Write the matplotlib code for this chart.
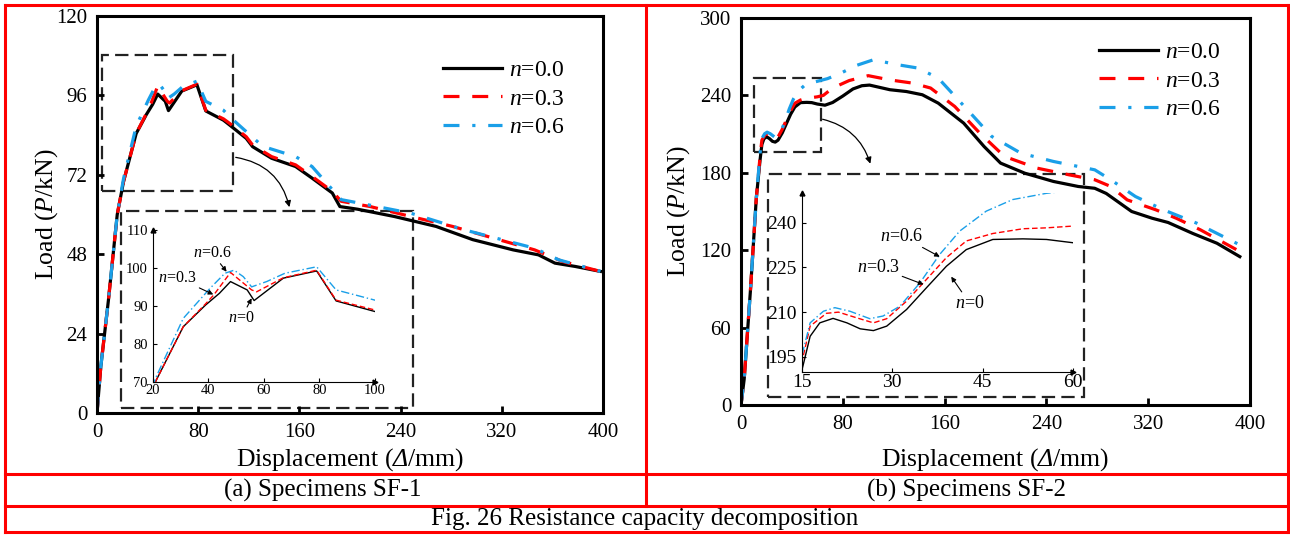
import numpy as np
import matplotlib.pyplot as plt
from matplotlib.patches import Rectangle, FancyArrowPatch
from matplotlib.lines import Line2D

plt.rcParams['font.family'] = ['Liberation Serif', 'DejaVu Serif']
plt.rcParams['mathtext.fontset'] = 'custom'
plt.rcParams['mathtext.rm'] = 'Liberation Serif'
plt.rcParams['mathtext.it'] = 'Liberation Serif:italic'
# sf slot carries the italic face so the capital Delta can be slanted
plt.rcParams['mathtext.sf'] = 'Liberation Serif:italic'

W, H = 1290, 535

# SF-1 load-displacement curves
sf1_x0 = [0, 3, 9, 16, 21, 31, 39, 44, 48, 54, 56.5, 67, 79, 86, 100, 105, 118, 123, 138, 157, 170,
          186, 192, 206, 235, 268, 297, 329, 349, 362, 378, 398]
sf1_y0 = [0, 14, 34, 60, 70, 84.5, 90.2, 93.3, 96.4, 94.2, 91.4, 97.3, 99.2, 91.3, 88.5, 87, 83, 80.5,
          77, 74.5, 71, 66.5, 62.4, 61.6, 59.4, 56.4, 52.4, 49.3, 47.8, 45.3, 44.3, 42.8]
sf1_x3 = [0, 3, 9, 16, 21, 31, 39, 42, 48, 55.6, 57.4, 67, 79, 86, 100, 105, 118, 123, 138, 157, 170,
          186, 193, 216, 248, 281, 313, 346, 368, 398]
sf1_y3 = [0, 14, 34, 60, 70, 84.5, 90.5, 92.9, 98.8, 94.2, 93.7, 97.4, 99.4, 91.5, 88.9, 87.5, 83.5,
          81, 77.5, 75, 71.5, 67, 64, 62.4, 59.4, 56.4, 52.9, 49.3, 45.8, 42.8]
sf1_x6 = [0, 3, 9, 16, 21, 31, 40.6, 46, 49.3, 52.6, 55.6, 61, 67.6, 79, 86, 100, 105, 131, 157, 170,
          193, 208, 248, 290, 320, 346, 365, 398]
sf1_y6 = [0, 14, 34, 60, 70.9, 86.7, 94.6, 98.6, 99.4, 97.7, 95, 96.4, 98.6, 100.3, 94.2, 91.5, 89.5,
          80.6, 77.5, 74.5, 64.5, 63.4, 60.4, 55.4, 52.4, 49.8, 46.3, 42.8]

# SF-2 load-displacement curves
sf2_x0 = [0, 2.5, 7.5, 12, 15, 16.4, 18, 20.2, 22.5, 24.7, 26.9, 29.1, 32.4, 35.7, 39, 42.3, 46.7,
          51.7, 55.6, 60, 66, 72, 80, 88, 95, 101, 117, 130, 142.5, 155, 175, 191, 204, 223, 245.5,
          265, 278, 287, 307, 323, 335.6, 355, 374, 392]
sf2_y0 = [0, 20, 90, 160, 190.2, 201.9, 206.4, 207.9, 206.4, 204.4, 203.8, 205.3, 210.9, 218.2, 225.4,
          231, 234.4, 234.6, 234.4, 233.3, 232.4, 234.5, 239.5, 245, 247.5, 248, 244.4, 243, 240.5,
          234, 218.5, 200.4, 187.5, 179.7, 173.3, 169.4, 168, 164, 150, 144.8, 141.5, 133, 125.4, 115]
sf2_x3 = [0, 2.5, 7.5, 12, 15, 16.4, 19.1, 21.1, 24.1, 26.9, 29.1, 32.4, 35.7, 39, 42.3, 46.7, 51.7,
          55.6, 60, 64.7, 72, 85, 100, 117, 135, 149, 168, 187.6, 207, 232.7, 258, 278, 290.6, 303.5,
          326, 342, 361, 392]
sf2_y3 = [0, 20, 90, 160, 193, 205.3, 209.6, 210, 208.1, 206.4, 207.8, 213.7, 221, 228.3, 233.9, 236.4,
          238, 238.3, 238.9, 240, 245.7, 251.5, 255.3, 252, 249.5, 245.7, 231.4, 210.8, 192.7, 183.6,
          178.4, 174.6, 169.4, 159, 151.3, 144.8, 135.8, 119]
sf2_x6 = [0, 2.5, 7.5, 12, 15, 16.4, 18.6, 20.5, 23, 26.3, 28.5, 31.3, 34.6, 37.9, 41.2, 45.6, 50,
          55.6, 59.5, 68, 78, 90, 104, 123, 139, 155, 178, 197, 220, 245.5, 265, 278, 290.6, 310, 332,
          358, 392]
sf2_y6 = [0, 20, 90, 160, 195.2, 206.4, 210.3, 211.5, 210.3, 207.8, 208.7, 212, 219.8, 229.4, 237.2,
          243.9, 247.8, 249.9, 250.8, 253, 257, 263, 267.6, 263.8, 261.2, 253.4, 228.8, 208.2, 195.2,
          188.8, 184.9, 182.3, 174.6, 161.6, 151.3, 141, 124.1]

labels = ['$n$=0.0', '$n$=0.3', '$n$=0.6']
colors = ['black', '#ff0000', '#1a9fe8']
styles = ['-', (0, (5, 4)), (0, (5, 4, 1, 4))]
inset_styles = ['-', (0, (4, 2)), (0, (6, 2, 1, 2))]


def frac(x0, y0, x1, y1):
    # pixel box -> figure fraction [left, bottom, width, height]
    return [x0 / W, 1 - y1 / H, (x1 - x0) / W, (y1 - y0) / H]


def main_axes(rect, series, ylim, yticks, legend_pos, xpad, ypad):
    ax = fig.add_axes(rect)
    for (x, y), c, s, lab in zip(series, colors, styles, labels):
        ax.plot(x, y, color=c, ls=s, lw=2.3, label=lab)
    ax.set_xlim(0, 400)
    ax.set_ylim(*ylim)
    ax.set_xticks(np.arange(0, 401, 80))
    ax.set_yticks(yticks)
    ax.tick_params(direction='in', length=5, width=2, labelsize=15, pad=7)
    for sp in ax.spines.values():
        sp.set_linewidth(2.2)
    ax.set_xlabel(r'Displacement ($\mathsf{\Delta}$/mm)', fontsize=18.5, labelpad=xpad)
    ax.set_ylabel('Load ($P$/kN)', fontsize=18.5, labelpad=ypad)
    ax.legend(loc='upper left', bbox_to_anchor=legend_pos, frameon=False, fontsize=17,
              handlelength=2.5, handletextpad=0.3, labelspacing=0.3, borderpad=0)
    return ax


def inset_axes(rect, series, xlim, ylim, xticks, yticks, fs):
    ax = fig.add_axes(rect)
    ax.patch.set_alpha(0)
    for (x, y), c, s in zip(series, colors, inset_styles):
        ax.plot(x, y, color=c, ls=s, lw=1.0)
    ax.set_xlim(*xlim)
    ax.set_ylim(*ylim)
    ax.set_xticks(xticks)
    ax.set_yticks(yticks)
    ax.spines[['top', 'right']].set_visible(False)
    ax.tick_params(direction='in', length=3, labelsize=fs)
    ax.tick_params(axis='x', pad=2)
    ax.tick_params(axis='y', pad=3.5)
    ax.plot(1, 0, '>k', ms=3.5, transform=ax.transAxes, clip_on=False)
    ax.plot(0, 1, '^k', ms=3.5, transform=ax.transAxes, clip_on=False)
    return ax


def note(ax, text, xy, xytext, fs):
    ax.annotate(text, xy=xy, xytext=xytext, fontsize=fs,
                arrowprops=dict(arrowstyle='-|>', lw=0.8, color='black', mutation_scale=7,
                                shrinkA=0, shrinkB=0))


def dashed_box(ax, x0, y0, x1, y1):
    ax.add_patch(Rectangle((x0, y0), x1 - x0, y1 - y0, fill=False, ls=(0, (6, 2.8)),
                           lw=1.6, ec='#222222'))


fig = plt.figure(figsize=(W / 100, H / 100), dpi=100)

# (a) SF-1
ax1 = main_axes(frac(97, 16, 603, 413),
                [(sf1_x0, sf1_y0), (sf1_x3, sf1_y3), (sf1_x6, sf1_y6)],
                (0, 120), np.arange(0, 121, 24), (0.66, 0.92), 3, -3)
dashed_box(ax1, 4, 67.1, 107.5, 108.2)
dashed_box(ax1, 19, 1.5, 250, 61.1)
ax1.add_patch(FancyArrowPatch((107.5, 77.4), (152.6, 61.4), connectionstyle='arc3,rad=-0.35',
                              arrowstyle='-|>', mutation_scale=9, lw=0.9, color='black'))

in1 = inset_axes(frac(152.7, 230, 375, 381.7),
                 [(sf1_x0, sf1_y0), (sf1_x3, sf1_y3), (sf1_x6, sf1_y6)],
                 (20, 100), (70, 110), np.arange(20, 101, 20), np.arange(70, 111, 10), 10.5)
note(in1, '$n$=0.6', (46.6, 99), (34.4, 102.9), 11.5)
note(in1, '$n$=0.3', (41.8, 93), (22, 96.4), 11.5)
note(in1, '$n$=0', (55.6, 92), (47.2, 85.8), 11.5)

# (b) SF-2
ax2 = main_axes(frac(741, 18, 1250, 405),
                [(sf2_x0, sf2_y0), (sf2_x3, sf2_y3), (sf2_x6, sf2_y6)],
                (0, 300), np.arange(0, 301, 60), (0.68, 0.97), 9, 6)
dashed_box(ax2, 10.2, 196, 62.9, 253.4)
dashed_box(ax2, 21, 6.2, 269.5, 179)
ax2.add_patch(FancyArrowPatch((62, 222), (102.3, 185), connectionstyle='arc3,rad=-0.3',
                              arrowstyle='-|>', mutation_scale=9, lw=0.9, color='black'))

in2 = inset_axes(frac(801.7, 193, 1073, 371.7),
                 [(sf2_x0, sf2_y0), (sf2_x3, sf2_y3), (sf2_x6, sf2_y6)],
                 (15, 60), (190, 250), np.arange(15, 61, 15), np.arange(195, 241, 15), 14)
note(in2, '$n$=0.6', (37.9, 228.6), (28, 234), 13)
note(in2, '$n$=0.3', (35.2, 219.3), (24.1, 223.6), 13)
note(in2, '$n$=0', (39.8, 221.9), (40.4, 211.5), 13)

# table frame and captions
red = dict(color='#ff0000', lw=2.2, transform=fig.transFigure)
for x0, y0, x1, y1 in [(5, 5, 1288, 5), (5, 532, 1288, 532), (5, 5, 5, 532), (1288, 5, 1288, 532),
                       (645.5, 5, 645.5, 505.5), (5, 474, 1288, 474), (5, 505.5, 1288, 505.5)]:
    fig.add_artist(Line2D([x0 / W, x1 / W], [1 - y0 / H, 1 - y1 / H], **red))

fig.text(323 / W, 1 - 490 / H, '(a) Specimens SF-1', ha='center', va='center', fontsize=18)
fig.text(967 / W, 1 - 490 / H, '(b) Specimens SF-2', ha='center', va='center', fontsize=18)
fig.text(645 / W, 1 - 519 / H, 'Fig. 26 Resistance capacity decomposition', ha='center',
         va='center', fontsize=18)

fig.savefig('out.png', dpi=100)
